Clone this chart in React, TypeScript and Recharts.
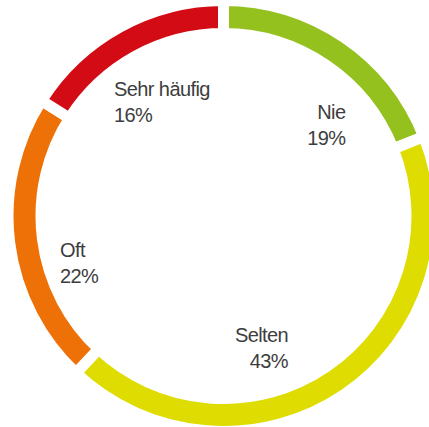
import React from "react";
import { PieChart, Pie, Cell } from "recharts";

const categories = ["Nie", "Selten", "Oft", "Sehr häufig"];
const shares = [19, 43, 22, 16];
const colors = ["#95C11F", "#DEDC00", "#EE7108", "#D30B15"];

// label placement tweaks (angle shift in degrees, radius in px) relative to the slice mid-angle
const labelLayout = [
  { dA: -18.9, r: 152.5 },
  { dA: -8.1, r: 146.7 },
  { dA: 8.8, r: 170 },
  { dA: 14.9, r: 158.4 },
];

const data = categories.map((name, i) => ({ name, value: shares[i] }));

const RAD = Math.PI / 180;

const renderLabel = (props: any) => {
  const { cx, cy, midAngle, index, name, value } = props;
  const lay = labelLayout[index];
  const a = (midAngle + lay.dA) * RAD;
  const x = cx + lay.r * Math.cos(a);
  const y = cy - lay.r * Math.sin(a);
  const anchor = x > cx ? "end" : "start";
  return (
    <text
      x={x}
      y={y}
      textAnchor={anchor}
      fill="#3d3d3d"
      fontFamily="'Liberation Sans', Arial, sans-serif"
      fontSize={20}
      letterSpacing={-0.6}
    >
      <tspan x={x} y={y - 5.5}>{name}</tspan>
      <tspan x={x} y={y + 20.5}>{`${value}%`}</tspan>
    </text>
  );
};

export default function App() {
  return (
    <div style={{ position: "absolute", left: 0, top: 0, width: 429, height: 427, background: "#fff" }}>
      <PieChart width={429} height={427} margin={{ top: 0, right: 0, bottom: 0, left: 0 }}>
        <Pie
          data={data}
          dataKey="value"
          nameKey="name"
          cx={223.5}
          cy={216}
          innerRadius={182.5}
          outerRadius={215.5}
          startAngle={90}
          endAngle={-270}
          stroke="#ffffff"
          strokeWidth={11}
          labelLine={false}
          label={renderLabel}
          isAnimationActive={false}
        >
          {data.map((d, i) => (
            <Cell key={d.name} fill={colors[i]} stroke="#ffffff" strokeWidth={11} />
          ))}
        </Pie>
      </PieChart>
    </div>
  );
}
